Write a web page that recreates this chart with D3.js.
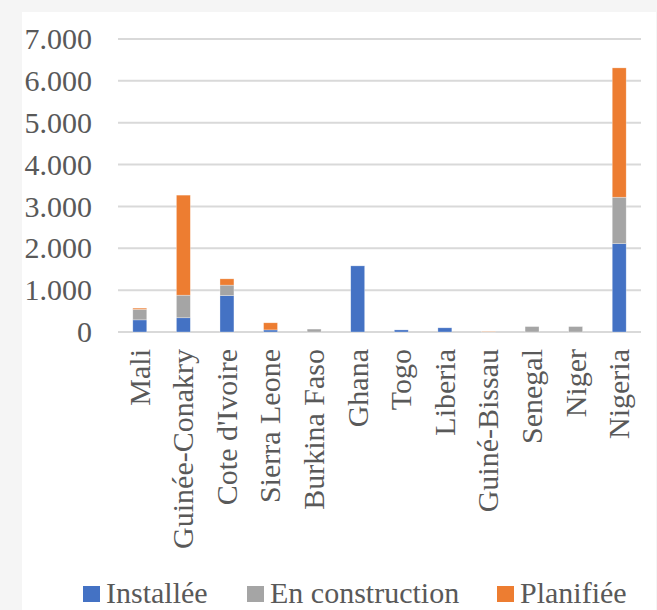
<!DOCTYPE html>
<html>
<head>
<meta charset="utf-8">
<script src="https://cdn.jsdelivr.net/npm/d3@7"></script>
<style>
  html, body { margin: 0; padding: 0; background: #f5f5f5; }
  svg { display: block; }
  text { font-family: "Liberation Serif", "Times New Roman", serif; fill: #595959; }
</style>
</head>
<body>
<svg id="chart" width="657" height="610"></svg>
<script>
// Capacity per country (MW), stacked by status
const categories = ["Mali", "Guinée-Conakry", "Cote d'Ivoire", "Sierra Leone", "Burkina Faso",
  "Ghana", "Togo", "Liberia", "Guiné-Bissau", "Senegal", "Niger", "Nigeria"];
const installee     = [290, 340, 870, 50, 0, 1580, 50, 100, 0, 0, 0, 2110];
const construction  = [250, 540, 250, 0, 70, 0, 0, 0, 0, 130, 130, 1110];
const planifiee     = [30, 2390, 150, 170, 0, 0, 0, 0, 10, 0, 0, 3090];
const seriesNames   = ["Installée", "En construction", "Planifiée"];
const seriesColors  = ["#4472C4", "#A5A5A5", "#ED7D31"];
const yTicks        = [0, 1000, 2000, 3000, 4000, 5000, 6000, 7000];

const svg = d3.select("#chart");

// white chart panel
svg.append("rect").attr("x", 22).attr("y", 12).attr("width", 634).attr("height", 600).attr("fill", "#fff");

const x = d3.scaleBand().domain(categories).range([118, 641]).paddingInner(0.68).paddingOuter(0.34);
const y = d3.scaleLinear().domain([0, 7000]).range([332, 39]);

const locale = d3.formatLocale({ decimal: ",", thousands: ".", grouping: [3], currency: ["", ""] });
const fmt = locale.format(",d");

// gridlines
svg.append("g").selectAll("line").data(yTicks).join("line")
  .attr("x1", 118).attr("x2", 641)
  .attr("y1", d => y(d)).attr("y2", d => y(d))
  .attr("stroke", "#d9d9d9").attr("stroke-width", 2);

// y axis labels
const yAxis = svg.append("g").attr("transform", "translate(118,0)")
  .call(d3.axisLeft(y).tickValues(yTicks).tickFormat(fmt).tickSize(0).tickPadding(26));
yAxis.select(".domain").remove();
yAxis.selectAll("text").style("font-family", '"Liberation Serif", serif').style("font-size", "30px").attr("fill", "#595959");

// stacked bars
const rows = categories.map((c, i) => ({ cat: c, Installée: installee[i], "En construction": construction[i], "Planifiée": planifiee[i] }));
const stack = d3.stack().keys(seriesNames)(rows);
svg.append("g").selectAll("g").data(stack).join("g")
  .attr("fill", (d, i) => seriesColors[i])
  .selectAll("rect").data(d => d).join("rect")
  .attr("x", d => x(d.data.cat))
  .attr("width", x.bandwidth())
  .attr("y", d => y(d[1]))
  .attr("height", d => Math.max(0, y(d[0]) - y(d[1])))
  .attr("stroke", "#ffffff").attr("stroke-opacity", 0.5).attr("stroke-width", 0.6);

// category labels, rotated
const xAxis = svg.append("g").attr("transform", "translate(0,332)")
  .call(d3.axisBottom(x).tickSize(0).tickPadding(0));
xAxis.select(".domain").remove();
xAxis.selectAll("text")
  .style("font-family", '"Liberation Serif", serif').style("font-size", "30px").attr("fill", "#595959")
  .attr("text-anchor", "end")
  .attr("transform", "rotate(-90)")
  .attr("x", -17).attr("y", 0).attr("dy", "0.33em");

// legend
const legendX = [83, 247, 497];
const legend = svg.append("g").selectAll("g").data(seriesNames).join("g")
  .attr("transform", (d, i) => `translate(${legendX[i]},0)`);
legend.append("rect").attr("x", 0).attr("y", 586).attr("width", 17).attr("height", 16)
  .attr("fill", (d, i) => seriesColors[i]);
legend.append("text").attr("x", 23).attr("y", 603)
  .style("font-size", "30px").text(d => d);
</script>
</body>
</html>
